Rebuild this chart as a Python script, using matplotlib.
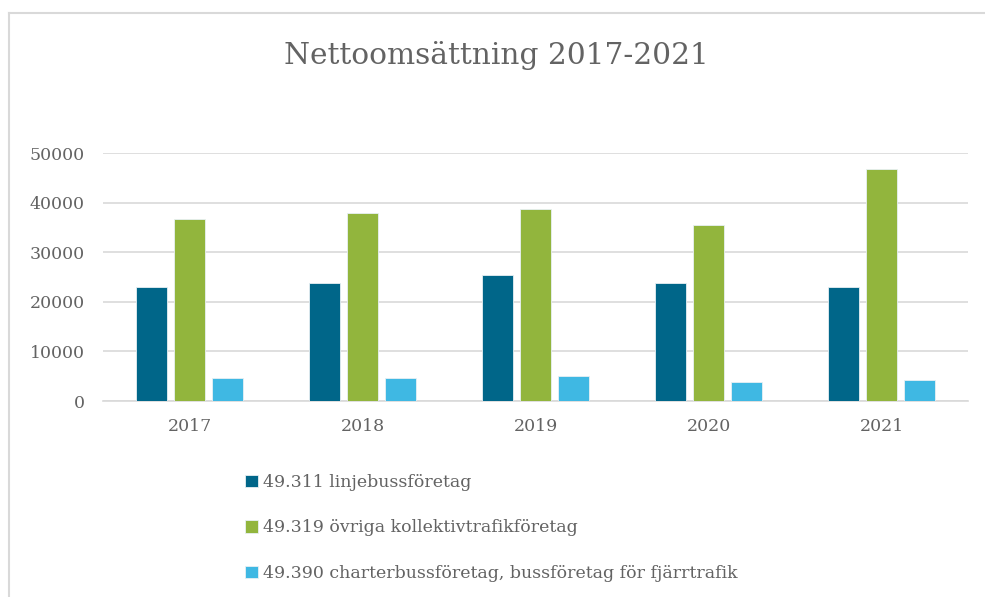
import matplotlib
matplotlib.use("Agg")
import matplotlib.pyplot as plt
from matplotlib.lines import Line2D
import numpy as np

# data
years = ["2017", "2018", "2019", "2020", "2021"]
linjebuss = [23000, 23800, 25500, 23800, 23000]
ovriga = [36700, 38000, 38800, 35450, 46700]
charter = [4650, 4650, 5050, 3850, 4250]
series_labels = [
    "49.311 linjebussföretag",
    "49.319 övriga kollektivtrafikföretag",
    "49.390 charterbussföretag, bussföretag för fjärrtrafik",
]
colors = ["#006689", "#92b53d", "#3fb8e3"]

grey = "#636363"
plt.rcParams["font.family"] = ["DejaVu Serif"]

fig = plt.figure(figsize=(9.85, 5.97), dpi=100)
ax = fig.add_axes([103 / 985, 1 - 401 / 597, (968 - 103) / 985, (401 - 153) / 597])

x = np.arange(len(years))
width = 0.18
step = 0.222
handles = []
for i, (vals, col) in enumerate(zip([linjebuss, ovriga, charter], colors)):
    b = ax.bar(x + (i - 1) * step, vals, width, color=col,
               edgecolor="#e8f0f4", linewidth=0.6, zorder=3)
    handles.append(b)

ax.set_xlim(-0.5, len(years) - 0.5)
ax.set_ylim(0, 50000)
ax.set_yticks(range(0, 50001, 10000))
ax.set_xticks(x)
ax.set_xticklabels(years)
ax.grid(axis="y", color="#d9d9d9", linewidth=1.2, zorder=0)
for s in ["top", "right", "left"]:
    ax.spines[s].set_visible(False)
ax.spines["bottom"].set_color("#d9d9d9")
ax.spines["bottom"].set_linewidth(1.2)
ax.tick_params(axis="both", length=0, colors=grey, labelsize=12.5)
ax.tick_params(axis="y", pad=13)
ax.tick_params(axis="x", pad=12)

fig.text(0.5 + 4 / 985, 1 - 55 / 597, "Nettoomsättning 2017-2021", ha="center",
         va="center", fontsize=21.3, color=grey)

leg = fig.legend(handles, series_labels, loc="upper left",
                 bbox_to_anchor=(245 / 985, 1 - 474 / 597), frameon=False,
                 fontsize=12.5, labelcolor=grey, handlelength=0.75,
                 handleheight=0.75, handletextpad=0.3, labelspacing=1.64,
                 borderpad=0, borderaxespad=0)

# outer chart border (only top and left are visible in the crop)
fig.add_artist(Line2D([9 / 985, 9 / 985], [0, 1 - 13 / 597], color="#d9d9d9", lw=1.5))
fig.add_artist(Line2D([9 / 985, 1], [1 - 13 / 597, 1 - 13 / 597], color="#d9d9d9", lw=1.5))

fig.savefig("out.png", dpi=100)
